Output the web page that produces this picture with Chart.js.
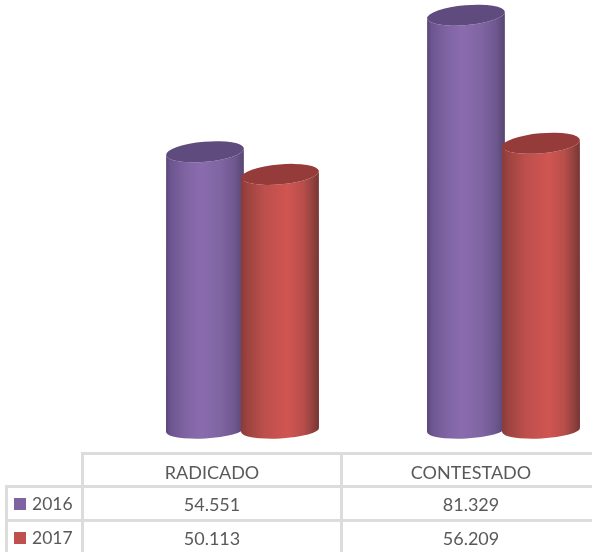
<!DOCTYPE html>
<html>
<head>
<meta charset="utf-8">
<script src="https://cdn.jsdelivr.net/npm/chart.js@4"></script>
<style>
  html, body { margin: 0; padding: 0; background: #fff; overflow: hidden; }
  #wrap { position: relative; width: 592px; height: 552px; overflow: hidden; }
  #c { position: absolute; left: 0; top: 0; }
  table { position: absolute; left: 5px; top: 452px; border-collapse: collapse; table-layout: fixed;
    width: 594px; font-family: Lato, sans-serif; font-size: 18px; color: #595959; }
  td { border: 3px solid #dcdcdc; height: 31px; padding: 0; text-align: center; }
  tr:first-child td { height: 27px; padding-top: 3px; }
  td.empty { border-left: none; border-top: none; }
  td.name { text-align: left; padding-left: 6px; white-space: nowrap; font-size: 17.5px; }
  .key { display: inline-block; width: 12px; height: 12px; margin-right: 6px; }
</style>
</head>
<body>
<div id="wrap">
  <canvas id="c" width="640" height="552"></canvas>
  <table id="tbl"></table>
</div>
<script>
const categories = ["RADICADO", "CONTESTADO"];
const seriesNames = ["2016", "2017"];
const values2016 = [54551, 81329];
const values2017 = [50113, 56209];
const labels2016 = ["54.551", "81.329"];
const labels2017 = ["50.113", "56.209"];

const keyColors = ["#8064a2", "#c0504d"];
const topColors = ["#5f4b7e", "#953b39"];
const sideStops = [
  [[0, "#5a4678"], [0.06, "#6c5590"], [0.22, "#7d62a0"], [0.45, "#8a6cae"], [0.7, "#7f65a2"], [0.88, "#6f5890"], [1, "#574570"]],
  [[0, "#8a3b39"], [0.08, "#9c4340"], [0.3, "#bd4f4c"], [0.6, "#d05551"], [0.8, "#b84e4a"], [0.93, "#8e403d"], [1, "#773533"]]
];

// cylinders drawn over the (transparent) bars, from the bar elements
const cylinders = {
  id: "cylinders",
  afterDatasetsDraw(chart) {
    const ctx = chart.ctx;
    chart.data.datasets.forEach((ds, i) => {
      chart.getDatasetMeta(i).data.forEach((bar) => {
        const rx = bar.width / 2;
        const topRot = -5 * Math.PI / 180;
        const botRot = -3 * Math.PI / 180;
        const grad = ctx.createLinearGradient(bar.x - rx, 0, bar.x + rx, 0);
        sideStops[i].forEach((s) => grad.addColorStop(s[0], s[1]));

        ctx.save();
        ctx.beginPath();
        ctx.ellipse(bar.x, bar.base, rx, 8.5, botRot, Math.PI, 0, true);
        ctx.ellipse(bar.x, bar.y, rx, 10, topRot, 0, Math.PI, false);
        ctx.closePath();
        ctx.fillStyle = grad;
        ctx.fill();

        ctx.beginPath();
        ctx.ellipse(bar.x, bar.y, rx, 10, topRot, 0, Math.PI * 2);
        ctx.fillStyle = topColors[i];
        ctx.fill();
        ctx.restore();
      });
    });
  }
};

new Chart(document.getElementById("c"), {
  type: "bar",
  data: {
    labels: categories,
    datasets: [
      { label: seriesNames[0], data: values2016, backgroundColor: "transparent" },
      { label: seriesNames[1], data: values2017, backgroundColor: "transparent" }
    ]
  },
  options: {
    responsive: false,
    animation: false,
    categoryPercentage: 0.575,
    barPercentage: 1.04,
    layout: { padding: { left: 112, right: 6, top: 0, bottom: 122 } },
    plugins: { legend: { display: false }, tooltip: { enabled: false } },
    scales: {
      x: { display: false },
      y: { display: false, min: 0, max: 84300 }
    }
  },
  plugins: [cylinders]
});

// data table under the plot
function cell(txt) { return "<td>" + txt + "</td>"; }
function row(i, labels) {
  return "<tr><td class='name'><span class='key' style='background:" + keyColors[i] + "'></span>" +
    seriesNames[i] + "</td>" + labels.map(cell).join("") + "</tr>";
}
document.getElementById("tbl").innerHTML =
  "<colgroup><col style='width:76px'><col style='width:259px'><col style='width:259px'></colgroup>" +
  "<tr><td class='empty'></td>" + categories.map(cell).join("") + "</tr>" +
  row(0, labels2016) + row(1, labels2017);
</script>
</body>
</html>
